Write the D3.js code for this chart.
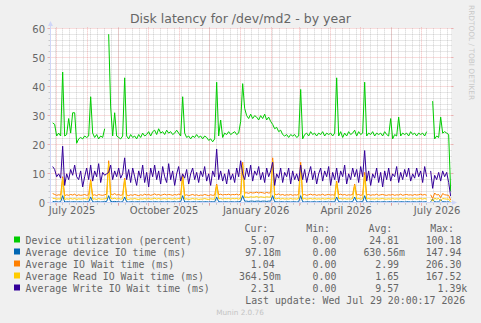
<!DOCTYPE html>
<html>
<head>
<meta charset="utf-8">
<script src="https://cdn.jsdelivr.net/npm/d3@7"></script>
<style>
body { margin: 0; background: #f0f0f0; }
svg { display: block; }
</style>
</head>
<body>
<svg width="481" height="323"></svg>
<script>
// legend rows
var seriesNames = ["Device utilization (percent)", "Average device IO time (ms)", "Average IO Wait time (ms)",
    "Average Read IO Wait time (ms)", "Average Write IO Wait time (ms)"];
var seriesColors = ["#00CC00", "#0066B3", "#FF8000", "#FFCC00", "#330099"];
var curVals = ["5.07", "97.18m", "1.04", "364.50m", "2.31"];
var minVals = ["0.00", "0.00", "0.00", "0.00", "0.00"];
var avgVals = ["24.81", "630.56m", "2.99", "1.65", "9.57"];
var maxVals = ["100.18", "147.94", "206.30", "167.52", "1.39k"];

// axis
var yTicks = [0, 10, 20, 30, 40, 50, 60];
var xLabels = ["July 2025", "October 2025", "January 2026", "April 2026", "July 2026"];
var xLabelMonths = ["2025-07", "2025-10", "2026-01", "2026-04", "2026-07"];

// one value every 2 days, starting 2025-06-27
var util = [
 27.5, 27, 23, 24, 23, 45, 23, 23.5, 29, 24,
 31, 31, 20.5, 22, 22.5, 22, 23, 22.5, 23, 36.5,
 24, 22.5, 23.5, 22, 23, 22.5, 25.5, null, 58, 33,
 23, 31, 23, 22.5, 22, 23, 43, 23, 22, 23.5,
 22.5, 23, 22, 23.5, 22.5, 24, 23, 23.5, 24.5, 23,
 24.5, 25, 23.5, 25.5, 24, 24.5, 23.5, 25, 24, 24.5,
 23.5, 24, 25, 24, 23, 36.5, 24, 22.5, 23, 22,
 23, 22.5, 23.5, 22.5, 23, 22, 23, 22.5, 21.5, 22,
 21, 22, 41.5, 23, 28.5, 22.5, 24, 23.5, 24.5, 23.5,
 24, 24.5, 23.5, 24, 28, 41, 32.5, 30, 29, 30.5,
 29, 30, 29.5, 28.5, 30, 29, 30.5, 28.5, 29.5, 28,
 27, 25.5, 26, 24.5, 25, 23.5, 23, 23.5, 22.5, 23.5,
 23, 23.5, 22.5, 23, 39, 22, 23.5, 24, 23, 24.5,
 23.5, 24, 23, 24, 23.5, 24.5, 23, 24, 23.5, 24,
 23, 24, 43, 23, 24.5, 22.5, 24, 23, 24.5, 23.5,
 24, 25, 23, 24.5, 23.5, 24, 41.5, 23, 24, 23.5,
 24.5, 23, 24, 23.5, 24, 23, 24.5, 23.5, 23, 29,
 22, 23.5, 23, 29.5, 23, 24, 23.5, 24, 23, 24.5,
 23.5, 24, 23, 24, 23.5, 24, 23, 24.5, null, null,
 35, 22, 23, 22.5, 29.5, 24, 24.5, 24, 23.5, 4
];
var ioTime = [
 0.5, 0.4, 0.4, 0.3, 0.4, 2.5, 0.3, 0.4, 0.4, 0.3,
 0.4, 0.4, 0.3, 0.4, 0.4, 0.3, 0.4, 0.4, 0.3, 2,
 0.4, 0.3, 0.4, 0.4, 0.3, 0.4, 0.4, 0.5, 2.5, 0.5,
 0.4, 0.5, 0.4, 0.4, 0.3, 0.4, 2, 0.4, 0.3, 0.4,
 0.4, 0.3, 0.4, 0.4, 0.3, 0.4, 0.4, 0.3, 0.4, 0.4,
 0.3, 0.4, 0.4, 0.3, 0.4, 0.4, 0.3, 0.4, 0.4, 0.3,
 0.4, 0.4, 0.3, 0.4, 0.4, 2.5, 0.3, 0.4, 0.4, 0.3,
 0.4, 0.4, 0.3, 0.4, 0.4, 0.3, 0.4, 0.4, 0.3, 0.4,
 0.4, 0.3, 2, 0.4, 0.4, 0.3, 0.4, 0.4, 0.3, 0.4,
 0.4, 0.3, 0.4, 0.4, 0.5, 2.5, 0.6, 0.6, 0.5, 0.6,
 0.6, 0.5, 0.6, 0.6, 0.5, 0.6, 0.6, 0.5, 0.6, 0.6,
 2.5, 0.4, 0.4, 0.3, 0.4, 0.4, 0.3, 0.4, 0.4, 0.3,
 0.4, 0.4, 0.3, 0.4, 2.5, 0.4, 0.3, 0.4, 0.4, 0.3,
 0.4, 0.4, 0.3, 0.4, 0.4, 0.3, 0.4, 0.4, 0.3, 0.4,
 0.4, 0.3, 2, 0.4, 0.4, 0.3, 0.4, 0.4, 0.3, 0.4,
 0.4, 2, 0.4, 0.3, 0.4, 0.4, 2.5, 0.4, 0.3, 0.4,
 0.4, 0.3, 0.4, 0.4, 0.3, 0.4, 0.4, 0.3, 0.4, 0.4,
 0.3, 0.4, 0.4, 0.3, 0.4, 0.4, 0.3, 0.4, 0.4, 0.3,
 0.4, 0.4, 0.3, 0.4, 0.4, 0.3, 0.4, 0.4, null, 0.4,
 1.2, 0.4, 0.3, 0.4, 1.0, 0.4, 0.4, 0.3, 0.4, 0.1
];
var ioWait = [
 3.2, 2.9, 2.6, 2.8, 2.7, 9, 2.5, 2.8, 2.6, 2.9,
 2.7, 3.0, 2.5, 2.8, 2.6, 2.7, 2.9, 2.6, 2.8, 8,
 2.6, 2.8, 2.5, 2.9, 2.7, 2.6, 2.8, 3.0, 14.5, 3.1,
 2.8, 3.2, 2.7, 2.9, 2.6, 2.8, 8.5, 2.7, 2.5, 2.8,
 2.6, 2.9, 2.7, 2.5, 2.8, 2.6, 3.0, 2.7, 2.9, 2.6,
 2.8, 3.1, 2.7, 2.9, 2.6, 2.8, 3.0, 2.7, 2.9, 2.8,
 2.6, 2.9, 2.7, 3.0, 2.8, 9.5, 2.6, 2.8, 2.5, 2.7,
 2.9, 2.6, 2.8, 2.5, 2.7, 2.6, 2.9, 2.7, 2.5, 2.8,
 2.6, 2.7, 6.5, 2.8, 3.0, 2.7, 2.9, 2.8, 3.0, 2.7,
 2.9, 2.8, 3.0, 2.7, 3.1, 14, 3.4, 3.5, 3.3, 3.6,
 3.4, 3.5, 3.7, 3.4, 3.6, 3.5, 3.3, 3.6, 3.4, 3.5,
 15.5, 3.0, 2.8, 3.1, 2.7, 2.9, 2.6, 2.8, 2.7, 2.9,
 2.6, 2.8, 2.7, 2.9, 14, 2.7, 2.9, 2.6, 2.8, 3.0,
 2.7, 2.9, 2.6, 2.8, 2.7, 3.0, 2.6, 2.8, 2.9, 2.7,
 2.8, 2.6, 7.5, 2.8, 3.0, 2.7, 2.9, 2.6, 2.8, 2.7,
 2.9, 6.5, 2.7, 2.9, 2.6, 2.8, 10.5, 2.7, 2.9, 2.6,
 2.8, 2.7, 3.0, 2.6, 2.8, 2.9, 2.7, 2.6, 2.8, 2.7,
 2.9, 2.6, 2.8, 2.7, 3.0, 2.6, 2.8, 2.9, 2.7, 2.8,
 2.6, 2.9, 2.7, 2.8, 3.0, 2.7, 2.9, 2.6, null, 2.8,
 1.5, 3.4, 2.7, 2.9, 1.8, 3.2, 2.8, 2.7, 2.6, 1.0
];
var readWait = [
 1.6, 1.5, 1.3, 1.4, 1.3, 8.5, 1.2, 1.4, 1.3, 1.5,
 1.3, 1.5, 1.2, 1.4, 1.3, 1.4, 1.5, 1.3, 1.4, 7.5,
 1.3, 1.4, 1.2, 1.5, 1.3, 1.3, 1.4, 1.5, 13.5, 1.6,
 1.4, 1.6, 1.3, 1.5, 1.3, 1.4, 8, 1.3, 1.2, 1.4,
 1.3, 1.5, 1.3, 1.2, 1.4, 1.3, 1.5, 1.3, 1.5, 1.3,
 1.4, 1.6, 1.3, 1.5, 1.3, 1.4, 1.5, 1.3, 1.5, 1.4,
 1.3, 1.5, 1.3, 1.5, 1.4, 9, 1.3, 1.4, 1.2, 1.3,
 1.5, 1.3, 1.4, 1.2, 1.3, 1.3, 1.5, 1.3, 1.2, 1.4,
 1.3, 1.3, 6, 1.4, 1.5, 1.3, 1.5, 1.4, 1.5, 1.3,
 1.5, 1.4, 1.5, 1.3, 1.6, 13, 1.9, 2.0, 1.9, 2.1,
 2.0, 2.0, 2.2, 1.9, 2.1, 2.0, 1.9, 2.1, 2.0, 2.0,
 14.5, 1.5, 1.4, 1.6, 1.3, 1.5, 1.3, 1.4, 1.3, 1.5,
 1.3, 1.4, 1.3, 1.5, 13, 1.3, 1.5, 1.3, 1.4, 1.5,
 1.3, 1.5, 1.3, 1.4, 1.3, 1.5, 1.3, 1.4, 1.5, 1.3,
 1.4, 1.3, 7, 1.4, 1.5, 1.3, 1.5, 1.3, 1.4, 1.3,
 1.5, 6, 1.3, 1.5, 1.3, 1.4, 9.5, 1.3, 1.5, 1.3,
 1.4, 1.3, 1.5, 1.3, 1.4, 1.5, 1.3, 1.3, 1.4, 1.3,
 1.5, 1.3, 1.4, 1.3, 1.5, 1.3, 1.4, 1.5, 1.3, 1.4,
 1.3, 1.5, 1.3, 1.4, 1.5, 1.3, 1.5, 1.3, null, 1.4,
 0.6, 1.6, 1.3, 1.5, 0.8, 1.5, 1.4, 1.3, 1.3, 0.4
];
var writeWait = [
 12.5, 11.5, 9, 10, 8.5, 19.5, 6, 10, 8, 11.5,
 9.5, 13, 9, 8, 11, 5.5, 9, 12, 8, 13,
 7.5, 11, 9, 13.5, 7, 10.5, 9.5, 10, 10.5, 13,
 8, 11, 9, 12, 8.5, 10, 15.5, 8, 11.5, 7,
 12, 9, 6, 11, 8.5, 13, 7, 10.5, 5.5, 12,
 9, 13, 8, 11, 6.5, 12.5, 9, 7, 13.5, 8,
 11, 6, 10, 12.5, 7.5, 10, 8.5, 11.5, 6.5, 10,
 12, 8, 10.5, 7, 11, 9, 12.5, 7.5, 10, 6,
 11, 9, 18.5, 8, 11, 7.5, 10, 6.5, 11.5, 8,
 10, 7, 12, 9, 14.5, 10, 8, 12, 9, 13,
 7.5, 11, 9.5, 12.5, 8, 10.5, 7, 12, 9, 11,
 14, 6, 10, 8.5, 12, 7, 10.5, 9, 12, 6.5,
 11, 8, 10, 7.5, 13, 8, 11.5, 7, 10, 12.5,
 8, 11, 6.5, 10, 12, 7.5, 11, 9, 12.5, 6,
 10.5, 8, 12, 7, 11, 9, 13, 6.5, 10, 8,
 12, 9, 11.5, 7, 12.5, 9, 18, 7.5, 11, 6,
 10, 8.5, 12, 7, 10.5, 5.5, 11, 8, 12, 7.5,
 10, 9, 12.5, 7, 10.5, 8, 11.5, 9, 12, 7.5,
 10, 8.5, 12, 9, 11, 7, 12.5, 9, null, 11,
 5, 9.5, 8, 10.5, 7.5, 11, 9, 10.5, 7, 2.3
];

function main(){

    var svg = d3.select("svg");
    var W = 481, H = 323;
    var left = 50.5, right = 450.5, top = 28.4, bottom = 202.9;
    var grey = "#666666";
    var sans = "DejaVu Sans", mono = "DejaVu Sans Mono";

    svg.append("rect").attr("width", W).attr("height", H).attr("fill", "#f0f0f0");

    // 400 days ending at the last update
    var end = new Date(2026, 6, 29, 20, 0, 17);
    var start = d3.timeDay.offset(end, -400);
    var xScale = d3.scaleTime().domain([start, end]).range([left, right]);
    var yScale = d3.scaleLinear().domain([0, 60]).range([bottom, top]);
    var crisp = function(v){ return Math.floor(v) + 0.5; };

    var dates = util.map(function(d, i){ return d3.timeDay.offset(new Date(2025, 5, 27), 2 * i); });

    // canvas
    svg.append("rect").attr("x", 51).attr("y", 28).attr("width", 400).attr("height", 175).attr("fill", "#fff");

    var g = svg.append("g");
    var minorCol = "rgba(150,150,150,0.45)", majorCol = "rgba(225,90,90,0.42)";

    // horizontal grid
    var minorY = d3.range(0, 61, 2).filter(function(v){ return v % 10 != 0; });
    minorY.forEach(function(v){
        var y = crisp(yScale(v));
        g.append("line").attr("x1", left).attr("x2", right + 1).attr("y1", y).attr("y2", y)
            .attr("stroke", minorCol).attr("stroke-dasharray", "1,1");
        g.append("line").attr("x1", left - 2).attr("x2", left).attr("y1", y).attr("y2", y).attr("stroke", minorCol);
    });
    yTicks.forEach(function(v){
        var y = crisp(yScale(v));
        g.append("line").attr("x1", left).attr("x2", right + 1).attr("y1", y).attr("y2", y)
            .attr("stroke", majorCol).attr("stroke-dasharray", "1,1");
        g.append("line").attr("x1", left - 3).attr("x2", left).attr("y1", y).attr("y2", y).attr("stroke", majorCol);
        g.append("line").attr("x1", right + 1).attr("x2", right + 3).attr("y1", y).attr("y2", y).attr("stroke", majorCol);
    });

    // vertical grid: weeks (minor), months (major)
    d3.timeMonday.range(start, end).forEach(function(d){
        var x = crisp(xScale(d));
        g.append("line").attr("x1", x).attr("x2", x).attr("y1", top).attr("y2", bottom)
            .attr("stroke", minorCol).attr("stroke-dasharray", "1,1");
        g.append("line").attr("x1", x).attr("x2", x).attr("y1", bottom).attr("y2", bottom + 2).attr("stroke", minorCol);
    });
    d3.timeMonth.range(start, end).forEach(function(d){
        var x = crisp(xScale(d));
        g.append("line").attr("x1", x).attr("x2", x).attr("y1", top - 1).attr("y2", bottom)
            .attr("stroke", majorCol).attr("stroke-dasharray", "1,1");
        g.append("line").attr("x1", x).attr("x2", x).attr("y1", bottom).attr("y2", bottom + 3).attr("stroke", majorCol);
    });

    // y labels
    var yAxis = svg.append("g").attr("transform", "translate(" + (left - 5.5) + ",0)")
        .call(d3.axisLeft(yScale).tickValues(yTicks).tickSize(0).tickPadding(0));
    yAxis.select(".domain").remove();
    yAxis.selectAll("text").attr("font-family", sans).attr("font-size", 10).attr("fill", grey).attr("dy", "0.36em");

    // x labels, centred half a month after the month start
    var parseMonth = d3.timeParse("%Y-%m");
    var labelDates = xLabelMonths.map(function(m){ return d3.timeDay.offset(parseMonth(m), 15); });
    var xAxis = svg.append("g").attr("transform", "translate(0," + 207 + ")")
        .call(d3.axisBottom(xScale).tickValues(labelDates).tickSize(0).tickPadding(0)
            .tickFormat(function(d, i){ return xLabels[i]; }));
    xAxis.select(".domain").remove();
    xAxis.selectAll("text").attr("font-family", sans).attr("font-size", 10).attr("fill", grey).attr("dy", "0.71em");

    // data
    svg.append("clipPath").attr("id", "clip").append("rect")
        .attr("x", 51).attr("y", 28).attr("width", 400).attr("height", 175);
    var series = [util, ioTime, ioWait, readWait, writeWait];
    var line = d3.line()
        .defined(function(d){ return d[1] != null; })
        .x(function(d){ return xScale(d[0]); })
        .y(function(d){ return yScale(d[1]); });
    var plot = svg.append("g").attr("clip-path", "url(#clip)");
    series.forEach(function(s, k){
        plot.append("path")
            .datum(s.map(function(v, i){ return [dates[i], v]; }))
            .attr("d", line)
            .attr("fill", "none")
            .attr("stroke", seriesColors[k])
            .attr("stroke-width", 1);
    });

    // axes with arrows
    var axisCol = "#CFD6F8";
    svg.append("line").attr("x1", left - 2).attr("x2", 452).attr("y1", crisp(bottom)).attr("y2", crisp(bottom)).attr("stroke", axisCol);
    svg.append("line").attr("x1", crisp(left)).attr("x2", crisp(left)).attr("y1", bottom + 2).attr("y2", 26).attr("stroke", axisCol);
    svg.append("path").attr("d", "M452,200 L457,202.5 L452,205 Z").attr("fill", axisCol);
    svg.append("path").attr("d", "M48,26 L50.5,21 L53,26 Z").attr("fill", axisCol);

    // title and watermarks
    svg.append("text").attr("x", 240.5).attr("y", 23).attr("text-anchor", "middle")
        .attr("font-family", sans).attr("font-size", 12.5).attr("fill", grey)
        .text("Disk latency for /dev/md2 - by year");
    svg.append("text").attr("transform", "translate(468.5,5) rotate(90)")
        .attr("font-family", sans).attr("font-size", 7.4).attr("fill", "#c8c8c8")
        .text("RRDTOOL / TOBI OETIKER");
    svg.append("text").attr("x", 240).attr("y", 315).attr("text-anchor", "middle")
        .attr("font-family", sans).attr("font-size", 7.3).attr("fill", "#c4c4c4")
        .text("Munin 2.0.76");

    // legend
    var fs = 9.9, cw = fs * 0.602;
    var legend = svg.append("g").attr("font-family", mono).attr("font-size", fs).attr("fill", grey);
    var heads = [["Cur:", 244.5], ["Min:", 306.2], ["Avg:", 368.5], ["Max:", 430.2]];
    heads.forEach(function(h){
        legend.append("text").attr("x", h[1]).attr("y", 231.5).text(h[0]);
    });
    var colEnds = [280.6, 342.3, 405, 467.3];
    var cols = [curVals, minVals, avgVals, maxVals];
    seriesNames.forEach(function(name, i){
        var y = 243.5 + i * 12;
        legend.append("rect").attr("x", 14).attr("y", y - 7).attr("width", 6).attr("height", 6).attr("fill", seriesColors[i]);
        legend.append("text").attr("x", 25.5).attr("y", y).text(name);
        cols.forEach(function(col, c){
            var v = col[i];
            var xe = /[a-z]$/.test(v) ? colEnds[c] : colEnds[c] - cw;
            legend.append("text").attr("x", xe).attr("y", y).attr("text-anchor", "end").text(v);
        });
    });
    legend.append("text").attr("x", 245.2).attr("y", 303.5).text("Last update: Wed Jul 29 20:00:17 2026");
}

main();
</script>
</body>
</html>
